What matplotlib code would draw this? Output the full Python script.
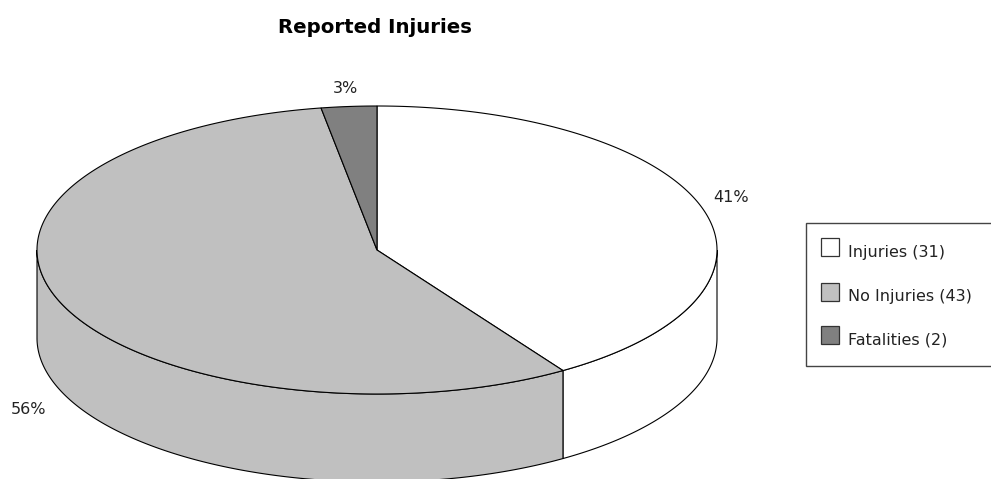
import numpy as np
import matplotlib
matplotlib.use('Agg')
import matplotlib.pyplot as plt
from matplotlib.patches import Rectangle

title = 'Reported Injuries'
categories = ['Injuries (31)', 'No Injuries (43)', 'Fatalities (2)']
values = [31, 43, 2]
pct_labels = ['41%', '56%', '3%']
colors = ['#FFFFFF', '#C0C0C0', '#808080']

W, H = 991, 479
cx, cy, rx, ry, depth = 377, 250, 340, 144, 88


def rim(a0, a1, drop=0):
    # points on the ellipse, angle clockwise from the top in degrees
    t = np.radians(np.linspace(a0, a1, max(int(abs(a1 - a0)) * 3, 2)))
    return cx + rx * np.sin(t), cy - ry * np.cos(t) + drop


fig = plt.figure(figsize=(W / 100, H / 100), dpi=100)
ax = fig.add_axes([0, 0, 1, 1])
ax.set_xlim(0, W)
ax.set_ylim(H, 0)
ax.axis('off')

edges = np.concatenate([[0], np.cumsum(values)]) / sum(values) * 360

# side walls, only the front half of the pie shows
for a0, a1, c in zip(edges[:-1], edges[1:], colors):
    lo, hi = max(a0, 90), min(a1, 270)
    if lo < hi:
        x, y = rim(lo, hi)
        xb, yb = rim(lo, hi, depth)
        ax.fill(np.r_[x, xb[::-1]], np.r_[y, yb[::-1]], fc=c, ec='black', lw=0.8)

# top face
for a0, a1, c in zip(edges[:-1], edges[1:], colors):
    x, y = rim(a0, a1)
    ax.fill(np.r_[cx, x], np.r_[cy, y], fc=c, ec='black', lw=0.8)

ax.text(375, 27, title, ha='center', va='center', fontsize=14.2,
        fontweight='bold', color='black')

label_pos = [(731, 197), (28, 409), (345, 88)]
for s, (px, py) in zip(pct_labels, label_pos):
    ax.text(px, py, s, ha='center', va='center', fontsize=11.5, color='#222222')

# legend box runs off the right side
ax.add_patch(Rectangle((806, 223), 200, 143, fc='white', ec='#444444', lw=1.0))
swatch_y = [238, 283, 326]
text_y = [253, 296, 340]
for name, c, sy, ty in zip(categories, colors, swatch_y, text_y):
    ax.add_patch(Rectangle((821, sy), 18, 18, fc=c, ec='#333333', lw=0.9))
    ax.text(848, ty, name, ha='left', va='center', fontsize=11.5, color='#222222')

fig.savefig('out.png', dpi=100)
